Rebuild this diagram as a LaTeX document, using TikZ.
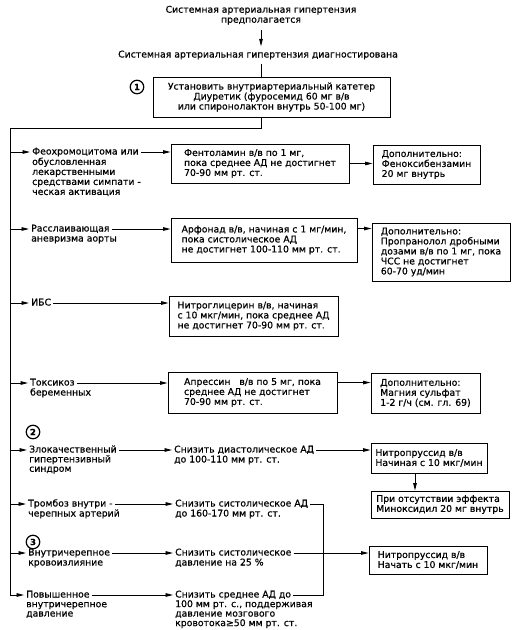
\documentclass[tikz,border=0pt]{standalone}
\usepackage{fontspec}
\setmainfont{DejaVu Sans}[FakeBold=0.6]
\usetikzlibrary{arrows.meta}
\begin{document}
\begin{tikzpicture}[x=1pt,y=-1pt,
  every node/.style={font=\fontsize{9.3}{10}\selectfont},
  ln/.style={line width=0.85pt},
  arr/.style={line width=0.85pt,-{Triangle[length=7.5pt,width=3.6pt]}},
  txt/.style={inner xsep=2pt,inner ysep=0pt,anchor=base west,text height=7pt,text depth=2pt},
  mtxt/.style={inner sep=0pt,anchor=north west,align=left},
  box/.style={draw,line width=0.95pt,align=left,inner sep=0pt},
  num/.style={draw,circle,line width=1.2pt,minimum size=13.5pt,inner sep=0pt,font=\fontsize{8.5}{8.5}\bfseries\selectfont},
]
\useasboundingbox (0,0) rectangle (516,630);

% top
\node[mtxt,align=center,anchor=north,inner ysep=5pt] (t1) at (261,0.5) {\strut Системная артериальная гипертензия\\предполагается};
\node[txt,anchor=base,inner ysep=4pt] (t2) at (258,57.5) {Системная артериальная гипертензия диагностирована};
\draw[arr] (t1.south) -- (t1.south |- t2.north);

\node[box,align=center,minimum width=237,minimum height=40] (B1) at (271.5,97)
  {Установить внутриартериальный катетер\\Диуретик (фуросемид 60 мг в/в\\или спиронолактон внутрь 50-100 мг)};
\node[num] (n1) at (137,87) {1};
\draw[ln] (t2.south -| t1.south) -- (B1.north -| t1.south);

% boxes
\node[box,minimum width=178,minimum height=39] (F) at (260,163.5)
  {Фентоламин в/в по 1 мг,\\пока среднее АД не достигнет\\70-90 мм рт. ст.};
\node[box,minimum width=107,minimum height=39] (FD) at (426.5,164.5)
  {Дополнительно:\\Феноксибензамин\\20 мг внутрь};
\node[box,minimum width=186,minimum height=44] (A) at (264,240)
  {Арфонад в/в, начиная с 1 мг/мин,\\пока систолическое АД\\не достигнет 100-110 мм рт. ст.};
\node[box,minimum width=138,minimum height=58] (AD) at (441,252)
  {Дополнительно:\\Пропранолол дробными\\дозами в/в по 1 мг, пока\\ЧСС не достигнет\\60-70 уд/мин};
\node[box,minimum width=169,minimum height=40] (N) at (253.5,316)
  {Нитроглицерин в/в, начиная\\с 10 мкг/мин, пока среднее АД\\не достигнет 70-90 мм рт. ст.};
\node[box,minimum width=169,minimum height=41] (Ap) at (252.5,392.5)
  {Апрессин\ \ \ в/в по 5 мг, пока\\среднее АД не достигнет\\70-90 мм рт. ст.};
\node[box,minimum width=109,minimum height=40] (M) at (425.5,393)
  {Дополнительно:\\Магния сульфат\\1-2 г/ч (см. гл. 69)};
\node[box,minimum width=116,minimum height=30] (NP1) at (429,458)
  {Нитропруссид в/в\\Начиная с 10 мкг/мин};
\node[box,minimum width=138,minimum height=27] (Mn) at (440,504.5)
  {При отсутствии эффекта\\Миноксидил 20 мг внутрь};
\node[box,minimum width=118,minimum height=28] (NP2) at (428,560)
  {Нитропруссид в/в\\Начать с 10 мкг/мин};

% left labels
\node[txt] (L1a) at (30,154.5) {Феохромоцитома или};
\node[mtxt] (L1b) at (32,157.5) {\strut обусловленная\\лекарственными\\средствами симпати -\\ческая активация};
\node[txt] (L2a) at (29,231.5) {Расслаивающая};
\node[txt] (L2b) at (29,241.5) {аневризма аорты};
\node[txt] (L3) at (29,305.5) {ИБС};
\node[txt] (L4a) at (28,385.5) {Токсикоз};
\node[txt] (L4b) at (28,395.5) {беременных};
\node[num] (n2) at (33,432) {2};
\node[txt] (L5a) at (27,452.5) {Злокачественный};
\node[mtxt,font=\fontsize{9.3}{9.5}\selectfont] (L5b) at (29,455) {\strut гипертензивный\\синдром};
\node[txt] (L6a) at (26,506.5) {Тромбоз внутри -};
\node[txt] (L6b) at (26,516.5) {черепных артерий};
\node[num] (n3) at (33,542) {3};
\node[txt] (L7a) at (26,555.5) {Внутричерепное};
\node[txt] (L7b) at (26,565.5) {кровоизлияние};
\node[txt] (L8a) at (24,597.5) {Повышенное};
\node[mtxt,font=\fontsize{9.3}{9.3}\selectfont] (L8b) at (26,600.5) {\strut внутричерепное\\давление};

% middle texts
\node[txt] (S5a) at (172,452.5) {Снизить диастолическое АД};
\node[txt] (S5b) at (172,462.5) {до 100-110 мм рт. ст.};
\node[txt] (S6a) at (173,506.5) {Снизить систолическое АД};
\node[txt] (S6b) at (173,516.5) {до 160-170 мм рт. ст.};
\node[txt] (S7a) at (173,555.5) {Снизить систолическое};
\node[txt] (S7b) at (173,565.5) {давление на 25 \%};
\node[txt] (S8a) at (173,597.5) {Снизить среднее АД до};
\node[mtxt,font=\fontsize{9.3}{9.5}\selectfont] (S8b) at (175,600) {\strut 100 мм рт. с., поддерживая\\давление мозгового\\кровотока≥50 мм рт. ст.};

% trunk
\coordinate (c0) at (10,128);
\draw[arr] (B1.south -| t1.south) |- (c0) |- (L8a.west);
\foreach \n in {L1a,L2a,L3,L4a,L5a,L6a,L7a}
  \draw[arr] (c0 |- \n.west) -- (\n.west);

% connectors
\draw[arr] (L1a.east) -- (L1a.east -| F.west);
\draw[arr] (F.east) -- (F.east -| FD.west);
\draw[arr] (L2a.east) -- (L2a.east -| A.west);
\coordinate (aA) at ([yshift=-11pt]A.north east);
\draw[arr] (aA) -- (aA -| AD.west);
\draw[arr] (L3.east) -- (L3.east -| N.west);
\draw[arr] (L4a.east) -- (L4a.east -| Ap.west);
\coordinate (aP) at ([yshift=-11pt]Ap.north east);
\draw[arr] (aP) -- (aP -| M.west);
\draw[arr] (L5a.east) -- (S5a.west);
\draw[arr] (S5a.east) -- (S5a.east -| NP1.west);
\coordinate (dn) at ([xshift=-14pt]NP1.south);
\draw[arr] (dn) -- (dn |- Mn.north);
\draw[arr] (L6a.east) -- (S6a.west);
\draw[arr] (L7a.east) -- (S7a.west);
\draw[arr] (S7a.east) -- (S7a.east -| NP2.west);
\draw[arr] (L8a.east) -- (S8a.west);
\coordinate (br) at (323,0);
\draw[ln] (S6a.east) -| (br |- S8a.east) -- (S8a.east);
\end{tikzpicture}
\end{document}
